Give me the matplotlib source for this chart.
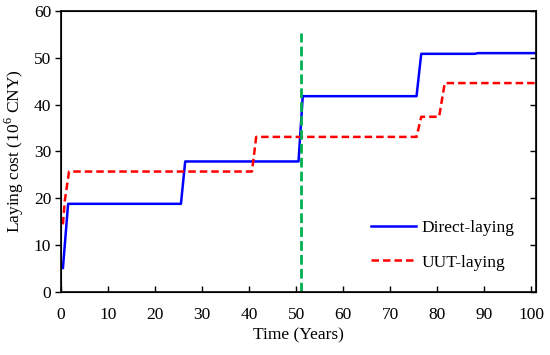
import matplotlib
matplotlib.use('Agg')
import matplotlib.pyplot as plt

# Datos
anio_directo = [0.4, 1.5, 25.5, 26.4, 50.5, 51.4, 75.6, 76.6, 88.0, 88.6, 101]
costo_directo = [5.1, 18.8, 18.8, 27.85, 27.85, 41.8, 41.8, 50.85, 50.85, 51.0, 51.0]

anio_uut = [0.4, 0.8, 1.7, 40.6, 41.5, 75.6, 76.6, 80.4, 81.6, 101]
costo_uut = [14.4, 19.5, 25.7, 25.7, 33.1, 33.1, 37.4, 37.4, 44.6, 44.6]

anio_corte = 51.0
altura_corte = 55.2

plt.rcParams['font.family'] = ['Liberation Serif', 'DejaVu Serif']
plt.rcParams['mathtext.fontset'] = 'custom'
plt.rcParams['mathtext.rm'] = 'Liberation Serif'

fig = plt.figure(figsize=(5.5, 3.55), dpi=100)
ax = fig.add_axes([0.111, 0.178, 0.8635, 0.791])

ax.plot(anio_directo, costo_directo, color='#0000FF', linewidth=1.8, label='Direct-laying')
ax.plot(anio_uut, costo_uut, color='#FF0000', linewidth=1.8, linestyle=(0, (3, 1.6)), label='UUT-laying')
ax.plot([anio_corte, anio_corte], [0, altura_corte], color='#00B050', linewidth=2.0,
        linestyle=(0, (3.5, 1.5)))

ax.set_xlim(0, 101)
ax.set_ylim(0, 60)
ax.set_xticks(range(0, 101, 10))
ax.set_yticks(range(0, 61, 10))
ax.tick_params(axis='x', direction='in', length=4, width=1, labelsize=12.5, pad=11)
ax.tick_params(axis='y', direction='out', length=4, width=1, labelsize=12.5, pad=3)
for lado in ax.spines.values():
    lado.set_linewidth(1.2)

# ticks del lado derecho hacia adentro
ax2 = ax.twinx()
ax2.set_ylim(0, 60)
ax2.set_yticks(range(0, 61, 10))
ax2.tick_params(axis='y', direction='in', length=4, width=1, labelright=False)

ax.set_xlabel('Time (Years)', fontsize=12.5, labelpad=3)
ax.set_ylabel(r'Laying cost (10$^{6}$ CNY)', fontsize=12.5, labelpad=6)

ax.legend(loc='lower right', frameon=False, fontsize=12.5, handlelength=2.6,
          labelspacing=1.05, handletextpad=0.3, bbox_to_anchor=(0.988, 0.02))

plt.savefig('out.png', dpi=100)
